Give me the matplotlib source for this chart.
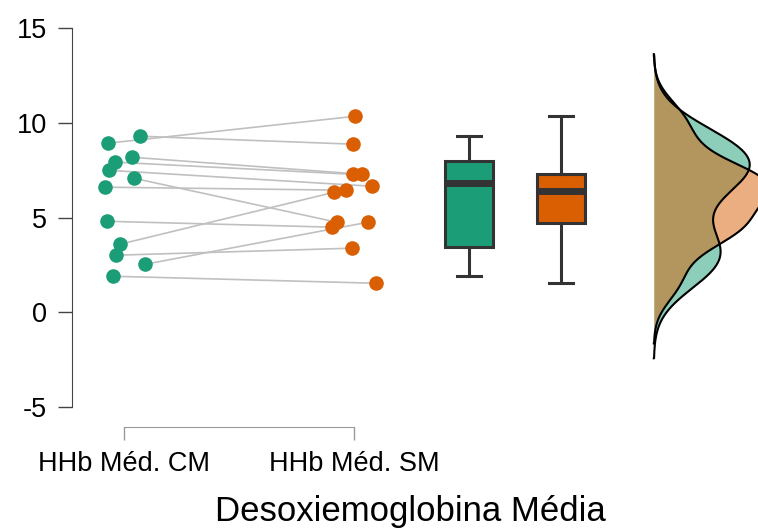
import matplotlib
matplotlib.use("Agg")
import matplotlib.pyplot as plt
import numpy as np

plt.rcParams['font.family'] = ['Liberation Sans', 'DejaVu Sans']
plt.rcParams['axes.unicode_minus'] = False

# dados pareados (mesma ordem = mesmo sujeito)
grupos = ['HHb Méd. CM', 'HHb Méd. SM']
cm = [8.92, 9.29, 7.92, 8.18, 7.49, 7.07, 6.60, 4.80, 3.59, 3.01, 2.53, 1.90]
sm = [10.34, 8.87, 7.28, 7.28, 6.65, 4.75, 6.44, 4.49, 6.33, 3.38, 4.75, 1.53]
jit_cm = [-0.070, 0.070, -0.039, 0.035, -0.065, 0.043, -0.083, -0.074, -0.017, -0.035, 0.091, -0.048]
jit_sm = [0.004, -0.004, -0.004, 0.035, 0.078, -0.074, -0.035, -0.096, -0.087, -0.009, 0.061, 0.096]
yticks = [-5, 0, 5, 10, 15]
titulo = 'Desoxiemoglobina Média'

verde = '#1B9E77'
laranja = '#D95F02'

fig = plt.figure(figsize=(7.58, 5.30), dpi=100)
ax = fig.add_axes([72/758, 123/530, 686/758, 379/530])

x1 = 1 + np.array(jit_cm)
x2 = 2 + np.array(jit_sm)

# linhas que ligam os pares
for a, b, ya, yb in zip(x1, x2, cm, sm):
    ax.plot([a, b], [ya, yb], color='#c0c0c0', lw=1.2, zorder=1)

ax.plot(x1, cm, 'o', color=verde, ms=10.5, mec='none', zorder=2)
ax.plot(x2, sm, 'o', color=laranja, ms=10.5, mec='none', zorder=2)

# boxplots
bp = ax.boxplot([cm, sm], positions=[2.5, 2.9], widths=0.209, whis=(0, 100),
                patch_artist=True, showfliers=False, manage_ticks=False)
for patch, c in zip(bp['boxes'], [verde, laranja]):
    patch.set_facecolor(c)
    patch.set_edgecolor('#333333')
    patch.set_linewidth(2.2)
for w in bp['whiskers']:
    w.set_color('#333333')
    w.set_linewidth(2.2)
for c in bp['caps']:
    c.set_color('#333333')
    c.set_linewidth(2.2)
    m = np.mean(c.get_xdata())
    c.set_xdata([m - 0.052, m + 0.052])
for md in bp['medians']:
    md.set_color('#333333')
    md.set_linewidth(5)


# densidades (kde gaussiano, bw nrd0)
def kde(v):
    v = np.asarray(v)
    n = len(v)
    iqr = np.subtract(*np.percentile(v, [75, 25]))
    bw = 0.9 * min(v.std(ddof=1), iqr / 1.34) * n ** -0.2
    g = np.linspace(v.min() - 3 * bw, v.max() + 3 * bw, 400)
    d = np.exp(-0.5 * ((g[:, None] - v[None, :]) / bw) ** 2).sum(1) / (n * bw * np.sqrt(2 * np.pi))
    return g, d


base = 3.304
g1, d1 = kde(cm)
g2, d2 = kde(sm)
k = 0.417 / d1.max()
for g, d, c in [(g1, d1, verde), (g2, d2, laranja)]:
    ax.fill_betweenx(g, base, base + d * k, color=c, alpha=0.5, lw=0, zorder=3)
    ax.plot(np.r_[base, base + d * k, base], np.r_[g[0], g, g[-1]], color='black', lw=1.5, zorder=4)

ax.set_xlim(0.774, 3.757)
ax.set_ylim(-5, 15)
ax.set_yticks(yticks)
ax.set_xticks([1, 2])
ax.set_xticklabels(grupos)
ax.tick_params(axis='y', length=10, width=1, color='#444444', labelsize=19.5, pad=8)
ax.tick_params(axis='x', length=9.4, width=1, color='#999999', labelsize=19.5, pad=8)

ax.spines['top'].set_visible(False)
ax.spines['right'].set_visible(False)
ax.spines['left'].set_bounds(-5, 15)
ax.spines['left'].set_color('#444444')
ax.spines['bottom'].set_bounds(1, 2)
ax.spines['bottom'].set_position(('outward', 14.4))
ax.spines['bottom'].set_color('#999999')

fig.text(410/758, 1 - 521/530, titulo, ha='center', va='baseline', fontsize=25)

fig.savefig('out.png', dpi=100)
